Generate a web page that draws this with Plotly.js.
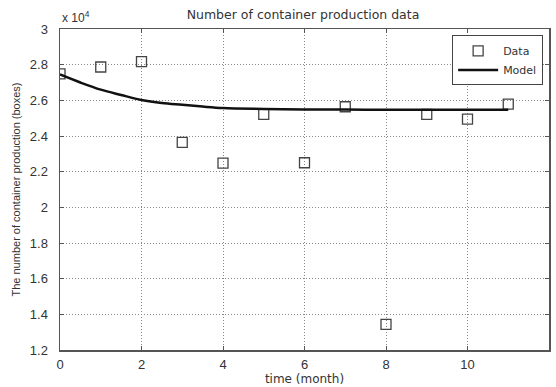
<!DOCTYPE html>
<html><head><meta charset="utf-8">
<script src="https://cdn.plot.ly/plotly-3.0.1.min.js"></script>
<style>html,body{margin:0;padding:0;background:#fff}#c{width:556px;height:387px}</style>
</head><body><div id="c"></div>
<script>
const months = [0,1,2,3,4,5,6,7,8,9,10,11];
const production = [27480,27870,28170,23640,22480,25210,22500,25640,13440,25210,24950,25790];
const modelX = [0,0.5,1,1.5,2,2.5,3,3.5,4,5,6,7,8,9,10,11];
const modelY = [27450,27000,26600,26300,26020,25850,25750,25650,25570,25520,25490,25480,25470,25470,25470,25470];
const yTickVals = [12000,14000,16000,18000,20000,22000,24000,26000,28000,30000];
const yTickText = ['1.2','1.4','1.6','1.8','2','2.2','2.4','2.6','2.8','3'];
const xTickVals = [0,2,4,6,8,10,12];

const ARIAL = 'Arial, Liberation Sans, sans-serif';
const DEJA = 'DejaVu Sans, sans-serif';
const traces = [
  {x: months, y: production, mode:'markers', type:'scatter', name:'Data',
   marker:{symbol:'square-open', size:10, color:'#444', line:{width:1.3, color:'#444'}}},
  {x: modelX, y: modelY, mode:'lines', type:'scatter', name:'Model',
   line:{color:'#111', width:2.5, shape:'spline'}}
];
const axisCommon = {showline:true, linecolor:'#555', linewidth:1.5, mirror:'ticks', ticks:'inside',
  ticklen:4, tickcolor:'#555', showgrid:true, gridcolor:'#888', griddash:'1px,2px', gridwidth:1,
  zeroline:false, tickfont:{family:ARIAL, size:13, color:'#333'}};
const layout = {
  width:556, height:387, margin:{l:60, r:7, t:29, b:37},
  paper_bgcolor:'#fff', plot_bgcolor:'#fff', showlegend:true,
  title:{text:'Number of container production data', x:0.545, xanchor:'center', y:0.963, yanchor:'middle',
    font:{family:DEJA, size:12.5, color:'#333'}},
  xaxis:Object.assign({}, axisCommon, {range:[0,12], tickvals:xTickVals, ticklabelstandoff:2,
    title:{text:'time (month)', standoff:3, font:{family:DEJA, size:12, color:'#333'}}}),
  yaxis:Object.assign({}, axisCommon, {range:[12000,30000], tickvals:yTickVals, ticktext:yTickText, ticklabelstandoff:8,
    title:{text:'The number of container production (boxes)', standoff:7, font:{family:ARIAL, size:11, color:'#333'}}}),
  legend:{x:0.988, xanchor:'right', y:0.98, yanchor:'top', bgcolor:'#fff', bordercolor:'#444', borderwidth:1,
    font:{family:DEJA, size:11, color:'#333'}, itemwidth:40, tracegroupgap:0},
  annotations:[{text:'x 10<sup>4</sup>', xref:'paper', yref:'paper', x:0, y:1, xanchor:'left', yanchor:'bottom',
    showarrow:false, font:{family:ARIAL, size:12, color:'#333'}, yshift:2}]
};
Plotly.newPlot('c', traces, layout, {displayModeBar:false, staticPlot:true});
</script></body></html>
